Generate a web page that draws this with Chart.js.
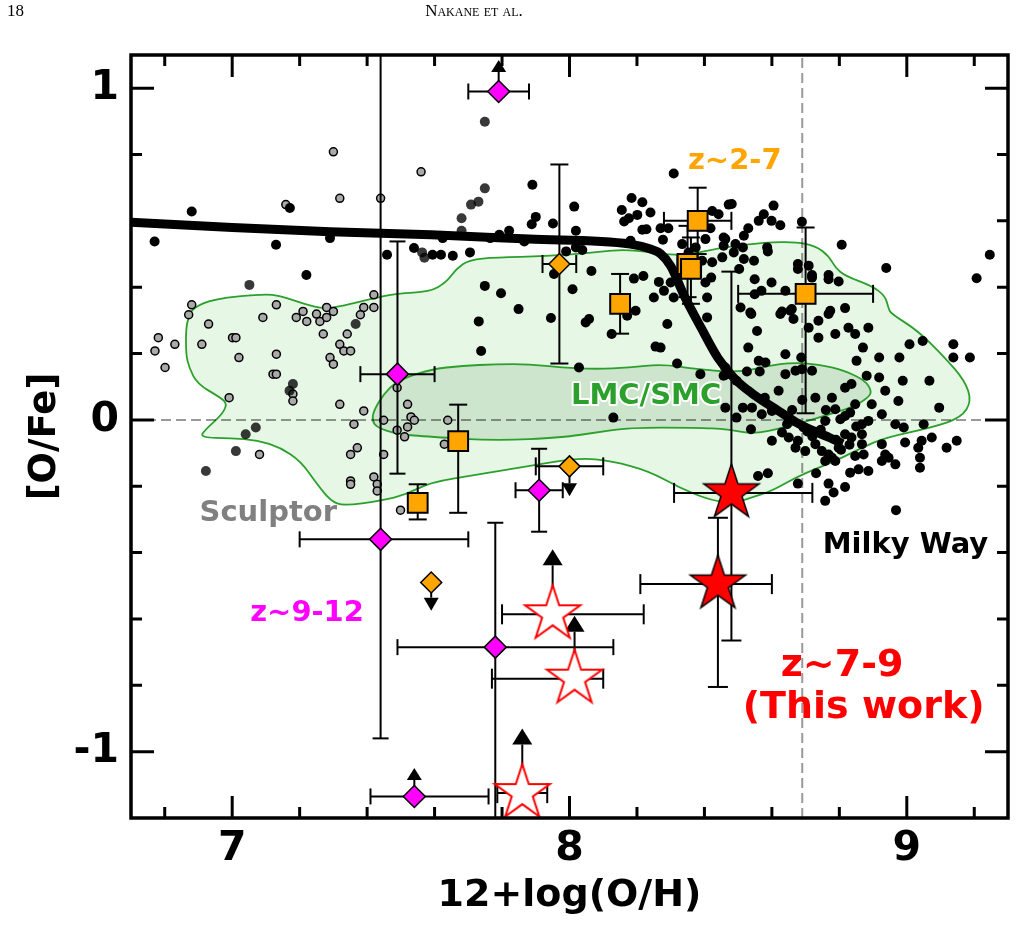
<!DOCTYPE html>
<html>
<head>
<meta charset="utf-8">
<script src="https://cdn.jsdelivr.net/npm/chart.js@4.4.1/dist/chart.umd.min.js"></script>
<style>
  html, body { margin: 0; padding: 0; background: #fff; }
  #wrap { position: relative; width: 1018px; height: 951px; }
  #chart { position: absolute; left: 0; top: 0; }
  .hdr { position: absolute; top: 1px; font-family: "Liberation Serif", "DejaVu Serif", serif; font-size: 17px; color: #000; }
</style>
</head>
<body>
<div id="wrap">
  <canvas id="chart" width="1018" height="951"></canvas>
  <div class="hdr" style="left:7px">18</div>
  <div class="hdr" style="left:374px;width:200px;text-align:center;font-variant:small-caps">Nakane et al.</div>
</div>
<script>
const FONT = "'DejaVu Sans', sans-serif";

// axes
const xRange = [6.7, 9.3];
const yRange = [-1.2, 1.1];
const xTickLabels = [7, 8, 9];
const yTickLabels = [-1, 0, 1];
const solarOH = 8.69;

// Milky Way stars
const mwX = [6.880,6.770,7.130,7.290,7.171,7.459,7.220,7.539,7.890,8.014,
  7.900,7.888,7.951,8.019,7.821,7.792,7.765,7.624,7.594,7.619,
  7.654,7.705,7.866,7.990,8.019,8.038,7.954,8.065,7.749,7.797,
  8.009,7.849,8.309,8.155,8.184,8.216,8.240,8.201,8.176,8.162,
  8.216,8.228,8.270,8.293,8.181,8.277,8.191,8.219,8.265,8.280,
  8.250,8.309,8.196,8.423,8.442,8.472,8.418,8.457,8.457,8.481,
  8.403,8.492,8.517,8.530,8.561,8.576,8.605,8.599,8.625,8.586,
  8.588,8.689,8.487,8.517,8.453,8.423,8.393,8.334,8.374,8.353,
  8.503,8.547,8.549,8.569,8.599,8.640,8.420,8.403,8.408,8.408,
  8.507,8.539,8.625,8.659,8.709,8.677,8.719,8.709,8.664,8.300,
  8.058,8.048,8.125,8.171,8.549,8.290,8.255,8.270,8.319,8.388,
  8.530,8.556,8.561,8.581,8.640,8.564,8.526,8.462,8.467,8.640,
  8.670,8.689,8.719,8.620,8.028,8.807,8.939,9.246,9.207,8.677,
  8.719,8.768,8.768,8.798,8.514,8.536,8.630,8.655,8.773,8.817,
  8.462,8.738,8.768,8.788,8.738,8.827,8.847,8.886,8.687,8.851,
  8.870,8.918,8.978,9.008,9.047,9.138,9.138,9.187,9.067,9.096,
  8.988,8.918,8.881,8.836,8.817,8.579,8.495,8.514,8.462,8.495,
  8.538,8.600,8.630,8.650,8.670,8.699,8.677,8.729,8.758,8.729,
  8.778,8.788,8.803,8.817,8.832,8.847,8.867,8.886,8.817,8.836,
  8.867,8.867,8.748,8.768,8.758,8.788,8.847,8.872,8.926,8.936,
  8.946,8.926,8.966,8.886,8.857,8.832,8.995,9.034,9.044,9.074,
  9.039,9.039,9.118,9.148,8.966,8.991,9.050,8.975,8.926,8.896,
  8.936,8.600,8.570,8.541,8.645,8.694,8.559,8.588,8.677,8.731,
  8.768,8.783,8.758,8.817,8.968,8.778,8.798,7.731,7.945,7.738,
  8.457,8.130,8.705,8.720,8.745,8.790,8.805,8.830,8.850,8.760,8.660,8.690];
const mwY = [0.628,0.538,0.528,0.548,0.639,0.498,0.437,0.518,0.709,0.643,
  0.612,0.590,0.592,0.570,0.570,0.558,0.548,0.548,0.498,0.498,
  0.495,0.505,0.538,0.508,0.520,0.512,0.440,0.449,0.404,0.382,
  0.394,0.334,0.743,0.633,0.669,0.656,0.625,0.618,0.608,0.598,
  0.573,0.575,0.578,0.578,0.540,0.543,0.426,0.434,0.416,0.389,
  0.369,0.369,0.329,0.630,0.620,0.649,0.578,0.550,0.525,0.651,
  0.545,0.530,0.555,0.578,0.600,0.620,0.646,0.600,0.587,0.520,
  0.508,0.597,0.505,0.485,0.490,0.475,0.480,0.530,0.520,0.505,
  0.455,0.480,0.424,0.389,0.414,0.389,0.429,0.414,0.369,0.309,
  0.339,0.319,0.319,0.334,0.465,0.470,0.429,0.278,0.304,0.414,
  0.304,0.294,0.259,0.314,0.379,0.289,0.221,0.218,0.170,0.138,
  0.218,0.268,0.178,0.173,0.198,0.146,0.146,0.158,0.138,0.138,
  0.148,0.153,0.148,0.088,0.158,0.528,0.458,0.498,0.427,0.455,
  0.437,0.437,0.424,0.417,0.520,0.324,0.327,0.329,0.329,0.337,
  0.545,0.299,0.319,0.259,0.248,0.278,0.259,0.278,0.188,0.178,
  0.218,0.188,0.188,0.228,0.238,0.228,0.188,0.188,0.118,0.037,
  0.118,0.128,0.133,0.108,0.097,0.067,0.118,0.037,0.037,0.007,
  -0.028,-0.063,-0.038,-0.053,-0.084,-0.094,-0.063,-0.073,-0.003,0.067,
  0.067,0.032,0.002,0.012,0.022,0.047,-0.013,-0.003,-0.043,-0.053,
  -0.043,-0.073,-0.094,-0.104,-0.124,-0.124,-0.109,-0.104,-0.073,-0.104,
  -0.114,-0.124,-0.134,-0.154,-0.149,-0.159,-0.068,-0.084,-0.063,-0.053,
  -0.114,-0.144,-0.084,-0.063,-0.013,-0.023,-0.013,0.057,0.017,0.047,
  0.088,0.027,0.017,0.037,-0.013,-0.023,-0.169,-0.161,-0.192,-0.161,
  -0.192,-0.219,-0.244,-0.202,-0.272,-0.114,-0.084,0.297,0.307,0.208,
  0.133,0.007,-0.035,-0.050,-0.030,-0.060,-0.090,-0.075,-0.020,0.030,0.030,0.060];

// Sculptor stars
const sclX = [7.300,7.560,7.319,7.440,7.159,6.880,7.131,7.420,7.390,7.280,
  7.300,7.210,6.871,6.930,7.091,7.190,7.221,7.250,7.260,7.280,
  7.380,7.420,6.781,6.830,6.771,6.801,6.910,7.001,7.011,7.020,
  7.131,7.121,7.131,7.270,7.341,7.319,7.331,7.351,7.290,7.300,
  6.991,7.180,7.180,7.319,7.390,7.361,7.371,7.351,7.449,7.081,
  7.449,7.489,7.520,7.530,7.540,7.520,7.489,7.511,7.351,7.351,
  7.420,7.430,7.430,7.499,7.639,7.629];
const sclY = [0.808,0.748,0.668,0.668,0.649,0.347,0.347,0.377,0.339,0.339,
  0.327,0.327,0.317,0.289,0.309,0.309,0.297,0.319,0.297,0.309,
  0.317,0.339,0.248,0.228,0.208,0.158,0.228,0.248,0.248,0.188,
  0.198,0.138,0.138,0.259,0.259,0.228,0.208,0.208,0.188,0.168,
  0.067,0.078,0.057,0.047,0.027,-0.013,-0.084,-0.104,-0.104,-0.104,
  -0.001,0.097,0.047,0.009,-0.001,-0.021,-0.031,-0.051,-0.184,-0.194,
  -0.172,-0.194,-0.214,-0.272,-0.001,-0.073];

// other dwarf stars (dark grey)
const dkX = [7.051,7.563,7.570,7.749,7.749,7.730,7.708,7.680,7.680,7.366,7.180,7.170,7.070,7.040,7.011,6.922];
const dkY = [0.407,0.505,0.489,0.899,0.698,0.658,0.649,0.608,0.570,0.289,0.108,0.088,-0.023,-0.043,-0.094,-0.154];

// chemical evolution track
const modelX = [6.70,7.00,7.29,7.59,7.88,8.18,8.24,8.27,8.30,8.34,8.39,8.44,8.49,8.54,8.62,8.68,8.77,8.81];
const modelY = [0.596,0.580,0.567,0.558,0.545,0.530,0.515,0.501,0.464,0.374,0.278,0.187,0.124,0.081,0.027,-0.012,-0.053,-0.072];

// contours
const outerX = [6.863,6.872,6.886,6.946,7.093,7.144,7.212,7.271,7.330,7.410,7.489,7.585,7.634,7.664,7.703,7.782,7.930,8.078,8.176,8.324,
  8.451,8.581,8.671,8.729,8.768,8.788,8.817,8.896,8.936,8.946,8.954,9.034,9.113,9.172,9.192,9.162,9.074,8.936,8.867,8.788,
  8.738,8.670,8.600,8.541,8.492,8.422,8.324,8.236,8.126,8.028,7.880,7.733,7.585,7.519,7.440,7.330,7.292,7.252,7.203,7.144,
  7.075,6.996,6.907,6.916,6.966,6.986,6.966,6.897,6.872,6.863];
const outerY = [0.278,0.314,0.339,0.365,0.380,0.374,0.350,0.335,0.344,0.365,0.382,0.386,0.414,0.455,0.483,0.490,0.493,0.505,0.515,0.492,
  0.520,0.535,0.537,0.525,0.495,0.459,0.434,0.404,0.374,0.335,0.320,0.268,0.188,0.118,0.057,0.007,-0.023,-0.053,-0.084,-0.124,
  -0.144,-0.174,-0.214,-0.234,-0.249,-0.244,-0.204,-0.154,-0.124,-0.114,-0.139,-0.164,-0.189,-0.224,-0.244,-0.259,-0.244,-0.194,-0.124,-0.084,
  -0.061,-0.055,-0.053,-0.033,0.012,0.047,0.067,0.108,0.158,0.198];
const innerX = [7.588,7.489,7.449,7.419,7.415,7.430,7.489,7.588,7.782,7.979,8.078,8.176,8.374,8.472,8.541,8.640,8.738,8.836,8.886,8.896,
  8.877,8.817,8.738,8.659,8.590,8.502,8.374,8.275,8.176,8.078,7.979,7.880,7.782,7.683];
const innerY = [0.153,0.118,0.078,0.027,-0.003,-0.023,-0.043,-0.051,-0.063,-0.053,-0.038,-0.023,-0.023,-0.028,-0.043,-0.023,0.007,0.037,0.067,0.087,
  0.118,0.148,0.168,0.173,0.163,0.143,0.153,0.168,0.158,0.153,0.158,0.168,0.168,0.163];

// z~2-7 (squares)
const sqX = [8.38, 8.35, 8.36, 8.15, 8.70, 7.67, 7.55];
const sqY = [0.60, 0.47, 0.455, 0.35, 0.38, -0.064, -0.25];
const sqXErr = [0.10, 0.03, 0.03, 0, 0.20, 0, 0];
const sqYLo = [0.10, 0.10, 0.105, 0.09, 0.36, 0.216, 0.05];
const sqYHi = [0.10, 0.115, 0.095, 0.09, 0.20, 0.11, 0.056];

// z~2-7 (diamonds)
const odX = [7.97, 8.00, 7.59];
const odY = [0.47, -0.14, -0.49];
const odXErr = [0.05, 0.10, 0];
const odYErr = [0.30, 0, 0];
const odLim = [0, -0.09, -0.085];

// z~9-12
const mgX = [7.79, 7.49, 7.44, 7.91, 7.78, 7.54];
const mgY = [0.99, 0.138, -0.36, -0.212, -0.685, -1.135];
const mgXLo = [0.09, 0.11, 0.24, 0.07, 0.29, 0.13];
const mgXHi = [0.09, 0.11, 0.26, 0.07, 0.35, 0.22];
const mgYLo = [0, 0.30, 0.60, 0.125, 0.60, 0];
const mgYHi = [0, 0.40, 1.60, 0.125, 0.375, 0];
const mgLim = [0.095, 0, 0, 0, 0, 0.086];

// z~7-9 this work: measurements
const rsX = [8.48, 8.44];
const rsY = [-0.22, -0.495];
const rsXLo = [0.17, 0.23];
const rsXHi = [0.24, 0.16];
const rsYLo = [0.445, 0.31];
const rsYHi = [0.667, 0.20];
// z~7-9 this work: lower limits
const osX = [7.95, 8.015, 7.86];
const osY = [-0.586, -0.78, -1.125];
const osXLo = [0.15, 0.245, 0.074];
const osXHi = [0.27, 0.085, 0.074];
const osLim = [0.196, 0.19, 0.195];

const xy = (xs, ys) => xs.map((x, i) => ({ x, y: ys[i] }));
const withErr = (xs, ys, e) => xs.map((x, i) => ({
  x, y: ys[i],
  xl: e.xl ? e.xl[i] : 0, xh: e.xh ? e.xh[i] : 0,
  yl: e.yl ? e.yl[i] : 0, yh: e.yh ? e.yh[i] : 0,
  lim: e.lim ? e.lim[i] : 0
}));

function starImage(R, fill, stroke, lw) {
  const c = document.createElement('canvas');
  const s = Math.ceil(2 * R + 2 * lw + 4);
  c.width = c.height = s;
  const g = c.getContext('2d');
  g.translate(s / 2, s / 2);
  g.beginPath();
  for (let k = 0; k < 10; k++) {
    const a = -Math.PI / 2 + k * Math.PI / 5;
    const r = k % 2 ? R * 0.381966 : R;
    g.lineTo(r * Math.cos(a), r * Math.sin(a));
  }
  g.closePath();
  g.fillStyle = fill; g.fill();
  g.lineWidth = lw; g.strokeStyle = stroke; g.lineJoin = 'miter'; g.stroke();
  return c;
}
const filledStar = starImage(29, '#ff0000', '#000', 1.5);
const openStar = starImage(29, '#ffffff', '#ff0000', 2);

// contours behind everything
const contours = {
  id: 'contours',
  beforeDatasetsDraw(chart) {
    const { ctx, chartArea: a, scales: { x, y } } = chart;
    const poly = (xs, ys, fill) => {
      const p = xs.map((v, i) => [x.getPixelForValue(v), y.getPixelForValue(ys[i])]);
      const n = p.length;
      const mid = (u, w) => [(u[0] + w[0]) / 2, (u[1] + w[1]) / 2];
      ctx.beginPath();
      const m0 = mid(p[n - 1], p[0]);
      ctx.moveTo(m0[0], m0[1]);
      for (let i = 0; i < n; i++) {
        const m = mid(p[i], p[(i + 1) % n]);
        ctx.quadraticCurveTo(p[i][0], p[i][1], m[0], m[1]);
      }
      ctx.closePath();
      ctx.fillStyle = fill; ctx.fill();
      ctx.lineWidth = 1.8; ctx.strokeStyle = '#2ca02c'; ctx.stroke();
    };
    ctx.save();
    ctx.beginPath(); ctx.rect(a.left, a.top, a.width, a.height); ctx.clip();
    poly(outerX, outerY, '#e6f7e6');
    poly(innerX, innerY, '#cde4cd');
    ctx.restore();
  }
};

// error bars and limit arrows, drawn just before each marker set
const errorBars = {
  id: 'errorBars',
  beforeDatasetDraw(chart, args) {
    const ds = chart.data.datasets[args.index];
    if (!ds.errStyle) return;
    const { ctx, chartArea: a, scales: { x, y } } = chart;
    const st = ds.errStyle;
    ctx.save();
    ctx.beginPath(); ctx.rect(a.left, a.top, a.width, a.height); ctx.clip();
    ctx.strokeStyle = '#000'; ctx.fillStyle = '#000'; ctx.lineWidth = 2;
    const seg = (x1, y1, x2, y2) => { ctx.beginPath(); ctx.moveTo(x1, y1); ctx.lineTo(x2, y2); ctx.stroke(); };
    ds.data.forEach(p => {
      const px = x.getPixelForValue(p.x), py = y.getPixelForValue(p.y);
      if (p.xl || p.xh) {
        const l = x.getPixelForValue(p.x - p.xl), r = x.getPixelForValue(p.x + p.xh);
        seg(l, py, r, py);
        if (p.xl) seg(l, py - st.cap, l, py + st.cap);
        if (p.xh) seg(r, py - st.cap, r, py + st.cap);
      }
      if (p.yl || p.yh) {
        const b = y.getPixelForValue(p.y - p.yl), t = y.getPixelForValue(p.y + p.yh);
        seg(px, b, px, t);
        if (p.yl) seg(px - st.cap, b, px + st.cap, b);
        if (p.yh) seg(px - st.cap, t, px + st.cap, t);
      }
      if (p.lim) {
        const tip = y.getPixelForValue(p.y + p.lim);
        const dir = p.lim > 0 ? 1 : -1;
        const base = tip + dir * st.headH;
        seg(px, py, px, base);
        ctx.beginPath();
        ctx.moveTo(px, tip);
        ctx.lineTo(px - st.headW / 2, base);
        ctx.lineTo(px + st.headW / 2, base);
        ctx.closePath(); ctx.fill();
      }
    });
    ctx.restore();
  }
};

// frame with inward ticks
const frame = {
  id: 'frame',
  afterDatasetsDraw(chart) {
    const { ctx, chartArea: a, scales: { x, y } } = chart;
    ctx.save();
    ctx.strokeStyle = '#000';
    ctx.lineWidth = 3;
    const isMajor = v => Math.abs(v - Math.round(v)) < 1e-6;
    for (let k = Math.ceil(xRange[0] / 0.2 + 1e-6); k * 0.2 < xRange[1] - 1e-6; k++) {
      const v = k * 0.2, px = x.getPixelForValue(v), L = isMajor(v) ? 22 : 11;
      ctx.beginPath();
      ctx.moveTo(px, a.bottom); ctx.lineTo(px, a.bottom - L);
      ctx.moveTo(px, a.top); ctx.lineTo(px, a.top + L);
      ctx.stroke();
    }
    for (let k = Math.ceil(yRange[0] / 0.2 + 1e-6); k * 0.2 < yRange[1] - 1e-6; k++) {
      const v = k * 0.2, py = y.getPixelForValue(v), L = isMajor(v) ? 23 : 11;
      ctx.beginPath();
      ctx.moveTo(a.left, py); ctx.lineTo(a.left + L, py);
      ctx.moveTo(a.right, py); ctx.lineTo(a.right - L, py);
      ctx.stroke();
    }
    ctx.lineWidth = 3.5;
    ctx.strokeRect(a.left, a.top, a.width, a.height);
    ctx.restore();
  }
};

// text annotations
const notes = [
  { text: 'z~2-7', x: 8.49, y: 0.756, color: '#ffa500', size: 29 },
  { text: 'LMC/SMC', x: 8.227, y: 0.047, color: '#2ca02c', size: 29, halo: true },
  { text: 'Sculptor', x: 7.107, y: -0.305, color: '#808080', size: 29 },
  { text: 'Milky Way', x: 8.996, y: -0.400, color: '#000000', size: 29 },
  { text: 'z~9-12', x: 7.222, y: -0.606, color: '#ff00ff', size: 29 },
  { text: 'z~7-9', x: 8.808, y: -0.772, color: '#ff0000', size: 38 },
  { text: '(This work)', x: 8.872, y: -0.898, color: '#ff0000', size: 38 }
];
const labels = {
  id: 'labels',
  afterDraw(chart) {
    const { ctx, scales: { x, y } } = chart;
    ctx.save();
    ctx.textAlign = 'center'; ctx.textBaseline = 'alphabetic';
    notes.forEach(n => {
      ctx.font = `bold ${n.size}px ${FONT}`;
      const px = x.getPixelForValue(n.x), py = y.getPixelForValue(n.y);
      if (n.halo) {
        ctx.lineWidth = 4; ctx.strokeStyle = '#fff'; ctx.lineJoin = 'round';
        ctx.strokeText(n.text, px, py);
      }
      ctx.fillStyle = n.color;
      ctx.fillText(n.text, px, py);
    });
    ctx.restore();
  }
};

const dashed = { showLine: true, borderColor: 'rgba(0,0,0,0.4)', borderWidth: 2, borderDash: [10, 5], pointRadius: 0, order: 20 };

new Chart(document.getElementById('chart'), {
  type: 'scatter',
  data: {
    datasets: [
      Object.assign({ data: [{ x: xRange[0], y: 0 }, { x: xRange[1], y: 0 }] }, dashed),
      Object.assign({ data: [{ x: solarOH, y: yRange[0] }, { x: solarOH, y: yRange[1] }] }, dashed),
      { label: 'Sculptor', data: xy(sclX, sclY), pointRadius: 4, backgroundColor: '#aaaaaa', borderColor: '#000', borderWidth: 1.5, order: 19 },
      { label: 'dwarfs', data: xy(dkX, dkY), pointRadius: 5, backgroundColor: 'rgba(0,0,0,0.78)', borderWidth: 0, order: 18 },
      { label: 'Milky Way', data: xy(mwX, mwY), pointRadius: 5, backgroundColor: '#000', borderWidth: 0, order: 17 },
      { label: 'model', data: xy(modelX, modelY), showLine: true, borderColor: '#000', borderWidth: 9, pointRadius: 0,
        cubicInterpolationMode: 'monotone', borderCapStyle: 'butt', borderJoinStyle: 'round', order: 16 },
      { label: 'z~2-7 sq', data: withErr(sqX, sqY, { xl: sqXErr, xh: sqXErr, yl: sqYLo, yh: sqYHi }),
        pointStyle: 'rect', pointRadius: 14, backgroundColor: '#ffa500', borderColor: '#000', borderWidth: 2,
        errStyle: { cap: 9, headW: 14, headH: 12 }, order: 5 },
      { label: 'z~2-7 dm', data: withErr(odX, odY, { xl: odXErr, xh: odXErr, yl: odYErr, yh: odYErr, lim: odLim }),
        pointStyle: 'rectRot', pointRadius: 10.5, backgroundColor: '#ffa500', borderColor: '#000', borderWidth: 1.5,
        errStyle: { cap: 9, headW: 15, headH: 13 }, order: 4 },
      { label: 'z~9-12', data: withErr(mgX, mgY, { xl: mgXLo, xh: mgXHi, yl: mgYLo, yh: mgYHi, lim: mgLim }),
        pointStyle: 'rectRot', pointRadius: 11, backgroundColor: '#ff00ff', borderColor: '#000', borderWidth: 1.5,
        errStyle: { cap: 8, headW: 15, headH: 12 }, order: 3 },
      { label: 'z~7-9 lim', data: withErr(osX, osY, { xl: osXLo, xh: osXHi, lim: osLim }),
        pointStyle: openStar, pointRadius: 29,
        errStyle: { cap: 10, headW: 20, headH: 16 }, order: 2 },
      { label: 'z~7-9', data: withErr(rsX, rsY, { xl: rsXLo, xh: rsXHi, yl: rsYLo, yh: rsYHi }),
        pointStyle: filledStar, pointRadius: 29,
        errStyle: { cap: 10, headW: 20, headH: 16 }, order: 1 }
    ]
  },
  options: {
    responsive: false,
    animation: false,
    events: [],
    layout: { autoPadding: false, padding: { top: 55, right: 10, left: 0, bottom: 0 } },
    plugins: { legend: { display: false }, tooltip: { enabled: false } },
    scales: {
      x: {
        type: 'linear', min: xRange[0], max: xRange[1],
        grid: { display: false, drawTicks: false }, border: { display: false },
        afterBuildTicks: s => { s.ticks = xTickLabels.map(v => ({ value: v })); },
        afterFit: s => { s.height = 133; s.paddingLeft = 0; s.paddingRight = 0; },
        ticks: { autoSkip: false, maxRotation: 0, padding: 7, color: '#000',
          font: { family: FONT, size: 41, weight: 'bold' }, callback: v => String(v) },
        title: { display: true, text: '12+log(O/H)', color: '#000', padding: { top: 0, bottom: 32 },
          font: { family: FONT, size: 38, weight: 'bold' } }
      },
      y: {
        type: 'linear', min: yRange[0], max: yRange[1],
        grid: { display: false, drawTicks: false }, border: { display: false },
        afterBuildTicks: s => { s.ticks = yTickLabels.map(v => ({ value: v })); },
        afterFit: s => { s.width = 131; s.paddingTop = 0; s.paddingBottom = 0; },
        ticks: { autoSkip: false, padding: 12, color: '#000',
          font: { family: FONT, size: 41, weight: 'bold' }, callback: v => String(v) },
        title: { display: true, text: '[O/Fe]', color: '#000', padding: { top: 23, bottom: 0 },
          font: { family: FONT, size: 37, weight: 'bold' } }
      }
    }
  },
  plugins: [contours, errorBars, frame, labels]
});
</script>
</body>
</html>
